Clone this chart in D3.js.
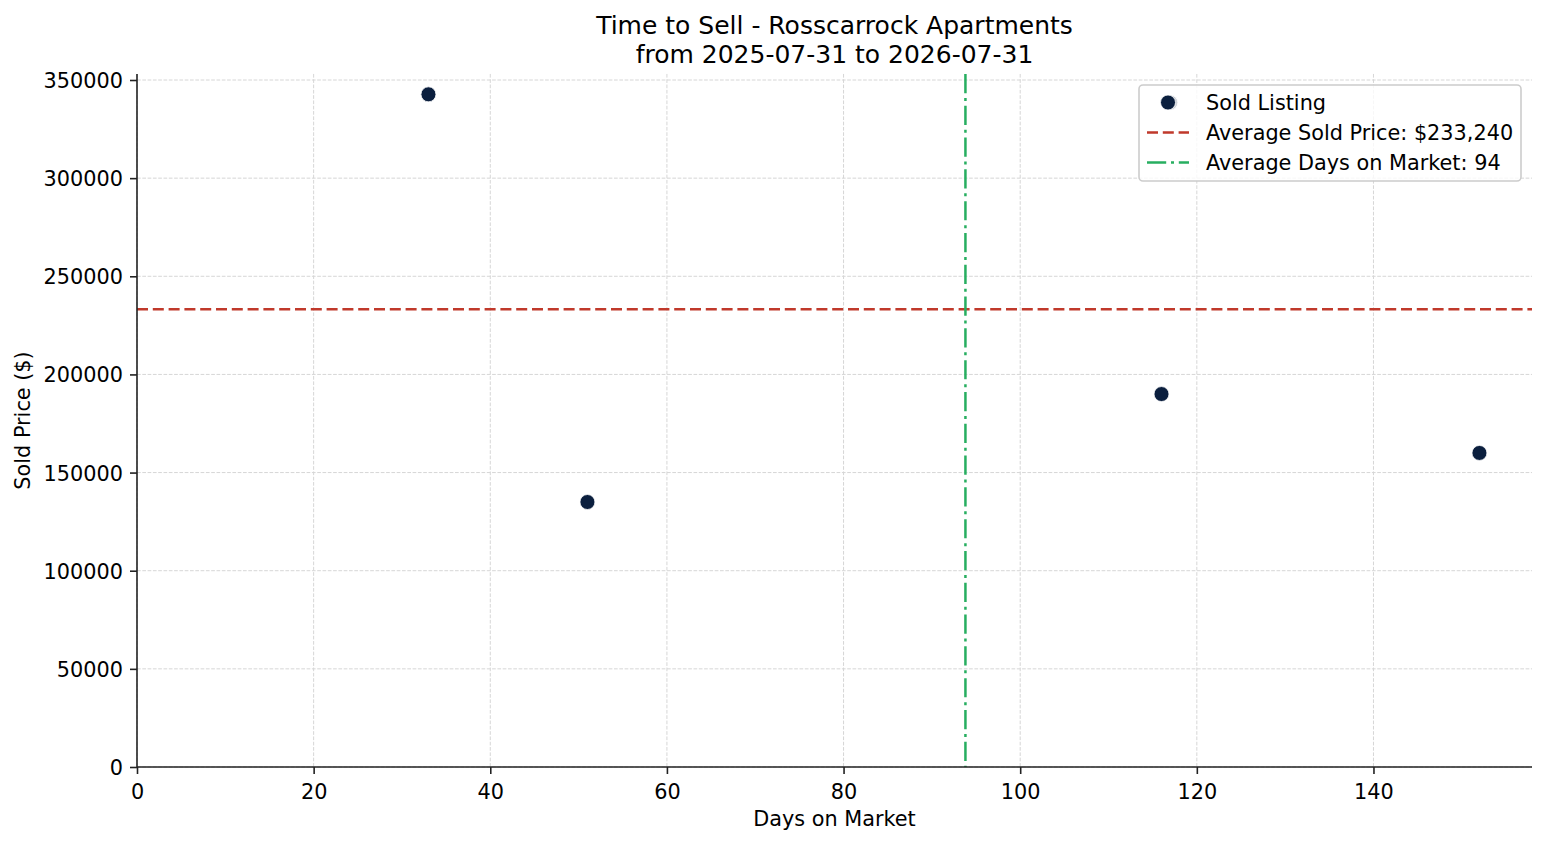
<!DOCTYPE html>
<html>
<head>
<meta charset="utf-8">
<script src="https://cdn.jsdelivr.net/npm/d3@7"></script>
<style>
  html, body { margin: 0; padding: 0; background: #fff; }
  svg text { font-family: "DejaVu Sans", sans-serif; fill: #000; }
</style>
</head>
<body>
<svg id="chart" width="1547" height="845"></svg>
<script>
// ---- Data ----
const titleLines = ["Time to Sell - Rosscarrock Apartments", "from 2025-07-31 to 2026-07-31"];
const daysOnMarket = [33, 51, 116, 152, 117];
const soldPrices = [342700, 135000, 190000, 160000, 338500];
const xTicks = [0, 20, 40, 60, 80, 100, 120, 140];
const yTicks = [0, 50000, 100000, 150000, 200000, 250000, 300000, 350000];
const xLabel = "Days on Market";
const yLabel = "Sold Price ($)";

// ---- Derived ----
const avgPrice = d3.mean(soldPrices);
const avgDays = d3.mean(daysOnMarket);
const legendLabels = [
  "Sold Listing",
  "Average Sold Price: " + d3.format("$,.0f")(avgPrice),
  "Average Days on Market: " + Math.round(avgDays)
];

const colors = { point: "#0b1f3e", price: "#c0392b", days: "#27ae60", grid: "#d6d6d6", axis: "#222" };
const FS = 20.8, TFS = 25;

const svg = d3.select("#chart");
const plot = { left: 137, right: 1532, bottom: 767 };

const xMin = d3.min(daysOnMarket), xMax = d3.max(daysOnMarket);
const yMin = d3.min(soldPrices), yMax = d3.max(soldPrices);
const xDomMax = xMax + 0.05 * (xMax - xMin);
const yDomMax = yMax + 0.05 * (yMax - yMin);

const x = d3.scaleLinear().domain([0, xDomMax]).range([plot.left, plot.right]);
const pxPerUnit = (plot.bottom - 80) / 350000;
plot.top = plot.bottom - yDomMax * pxPerUnit;
const y = d3.scaleLinear().domain([0, yDomMax]).range([plot.bottom, plot.top]);

// ---- Grid ----
const grid = svg.append("g");
grid.selectAll("line.gx").data(xTicks).join("line")
  .attr("x1", d => x(d)).attr("x2", d => x(d))
  .attr("y1", plot.top).attr("y2", plot.bottom)
  .attr("stroke", colors.grid).attr("stroke-width", 1).attr("stroke-dasharray", "3.7,1.6");
grid.selectAll("line.gy").data(yTicks).join("line")
  .attr("x1", plot.left).attr("x2", plot.right)
  .attr("y1", d => y(d)).attr("y2", d => y(d))
  .attr("stroke", colors.grid).attr("stroke-width", 1).attr("stroke-dasharray", "3.7,1.6");

// ---- Reference lines ----
svg.append("line")
  .attr("x1", plot.left).attr("x2", plot.right)
  .attr("y1", y(avgPrice)).attr("y2", y(avgPrice))
  .attr("stroke", colors.price).attr("stroke-width", 2.5).attr("stroke-dasharray", "11,4.8");
svg.append("line")
  .attr("x1", x(avgDays)).attr("x2", x(avgDays))
  .attr("y1", plot.top).attr("y2", plot.bottom)
  .attr("stroke", colors.days).attr("stroke-width", 2.5).attr("stroke-dasharray", "19.2,4.8,3,4.8");

// ---- Points ----
svg.append("g").selectAll("circle").data(daysOnMarket).join("circle")
  .attr("cx", d => x(d))
  .attr("cy", (d, i) => y(soldPrices[i]))
  .attr("r", 7.5)
  .attr("fill", colors.point)
  .attr("stroke", "#fff").attr("stroke-width", 0.8);

// ---- Axes ----
const xAxis = d3.axisBottom(x).tickValues(xTicks).tickSize(7).tickPadding(7).tickFormat(d3.format("d"));
const gx = svg.append("g").attr("transform", `translate(0,${plot.bottom})`).call(xAxis);
gx.select(".domain").attr("stroke", colors.axis).attr("stroke-width", 1.6)
  .attr("d", `M${plot.left},0H${plot.right}`);
gx.selectAll(".tick line").attr("stroke", colors.axis).attr("stroke-width", 1.6);
gx.selectAll(".tick text").attr("font-size", FS).attr("dy", null).attr("y", 32);

const yAxis = d3.axisLeft(y).tickValues(yTicks).tickSize(7).tickPadding(7).tickFormat(d3.format("d"));
const gy = svg.append("g").attr("transform", `translate(${plot.left},0)`).call(yAxis);
gy.select(".domain").attr("stroke", colors.axis).attr("stroke-width", 1.6)
  .attr("d", `M0,${plot.top}V${plot.bottom}`);
gy.selectAll(".tick line").attr("stroke", colors.axis).attr("stroke-width", 1.6);
gy.selectAll(".tick text").attr("font-size", FS).attr("dy", "0.36em");

// ---- Axis labels ----
svg.append("text").attr("x", (plot.left + plot.right) / 2).attr("y", 826)
  .attr("text-anchor", "middle").attr("font-size", FS).text(xLabel);
svg.append("text").attr("transform", `translate(30,${(plot.top + plot.bottom) / 2}) rotate(-90)`)
  .attr("text-anchor", "middle").attr("font-size", FS).text(yLabel);

// ---- Title ----
svg.append("g").selectAll("text").data(titleLines).join("text")
  .attr("x", (plot.left + plot.right) / 2)
  .attr("y", (d, i) => 34 + i * 29)
  .attr("text-anchor", "middle").attr("font-size", TFS).text(d => d);

// ---- Legend ----
const lg = svg.append("g");
lg.append("rect").attr("x", 1139).attr("y", 85).attr("width", 382).attr("height", 96)
  .attr("rx", 4).attr("fill", "#fff").attr("fill-opacity", 0.8)
  .attr("stroke", "#cccccc").attr("stroke-width", 1.6);
const rows = legendLabels.map((t, i) => ({ t, i, cy: 102.5 + i * 30 }));
lg.selectAll("text").data(rows).join("text")
  .attr("x", 1206).attr("y", d => d.cy).attr("dy", "0.36em")
  .attr("font-size", FS).text(d => d.t);
lg.append("circle").attr("cx", 1168).attr("cy", rows[0].cy).attr("r", 7.5)
  .attr("fill", colors.point).attr("stroke", "#fff").attr("stroke-width", 0.8);
lg.append("line").attr("x1", 1147).attr("x2", 1189).attr("y1", rows[1].cy).attr("y2", rows[1].cy)
  .attr("stroke", colors.price).attr("stroke-width", 2.5).attr("stroke-dasharray", "11,4.8");
lg.append("line").attr("x1", 1147).attr("x2", 1189).attr("y1", rows[2].cy).attr("y2", rows[2].cy)
  .attr("stroke", colors.days).attr("stroke-width", 2.5).attr("stroke-dasharray", "19.2,4.8,3,4.8");
</script>
</body>
</html>
